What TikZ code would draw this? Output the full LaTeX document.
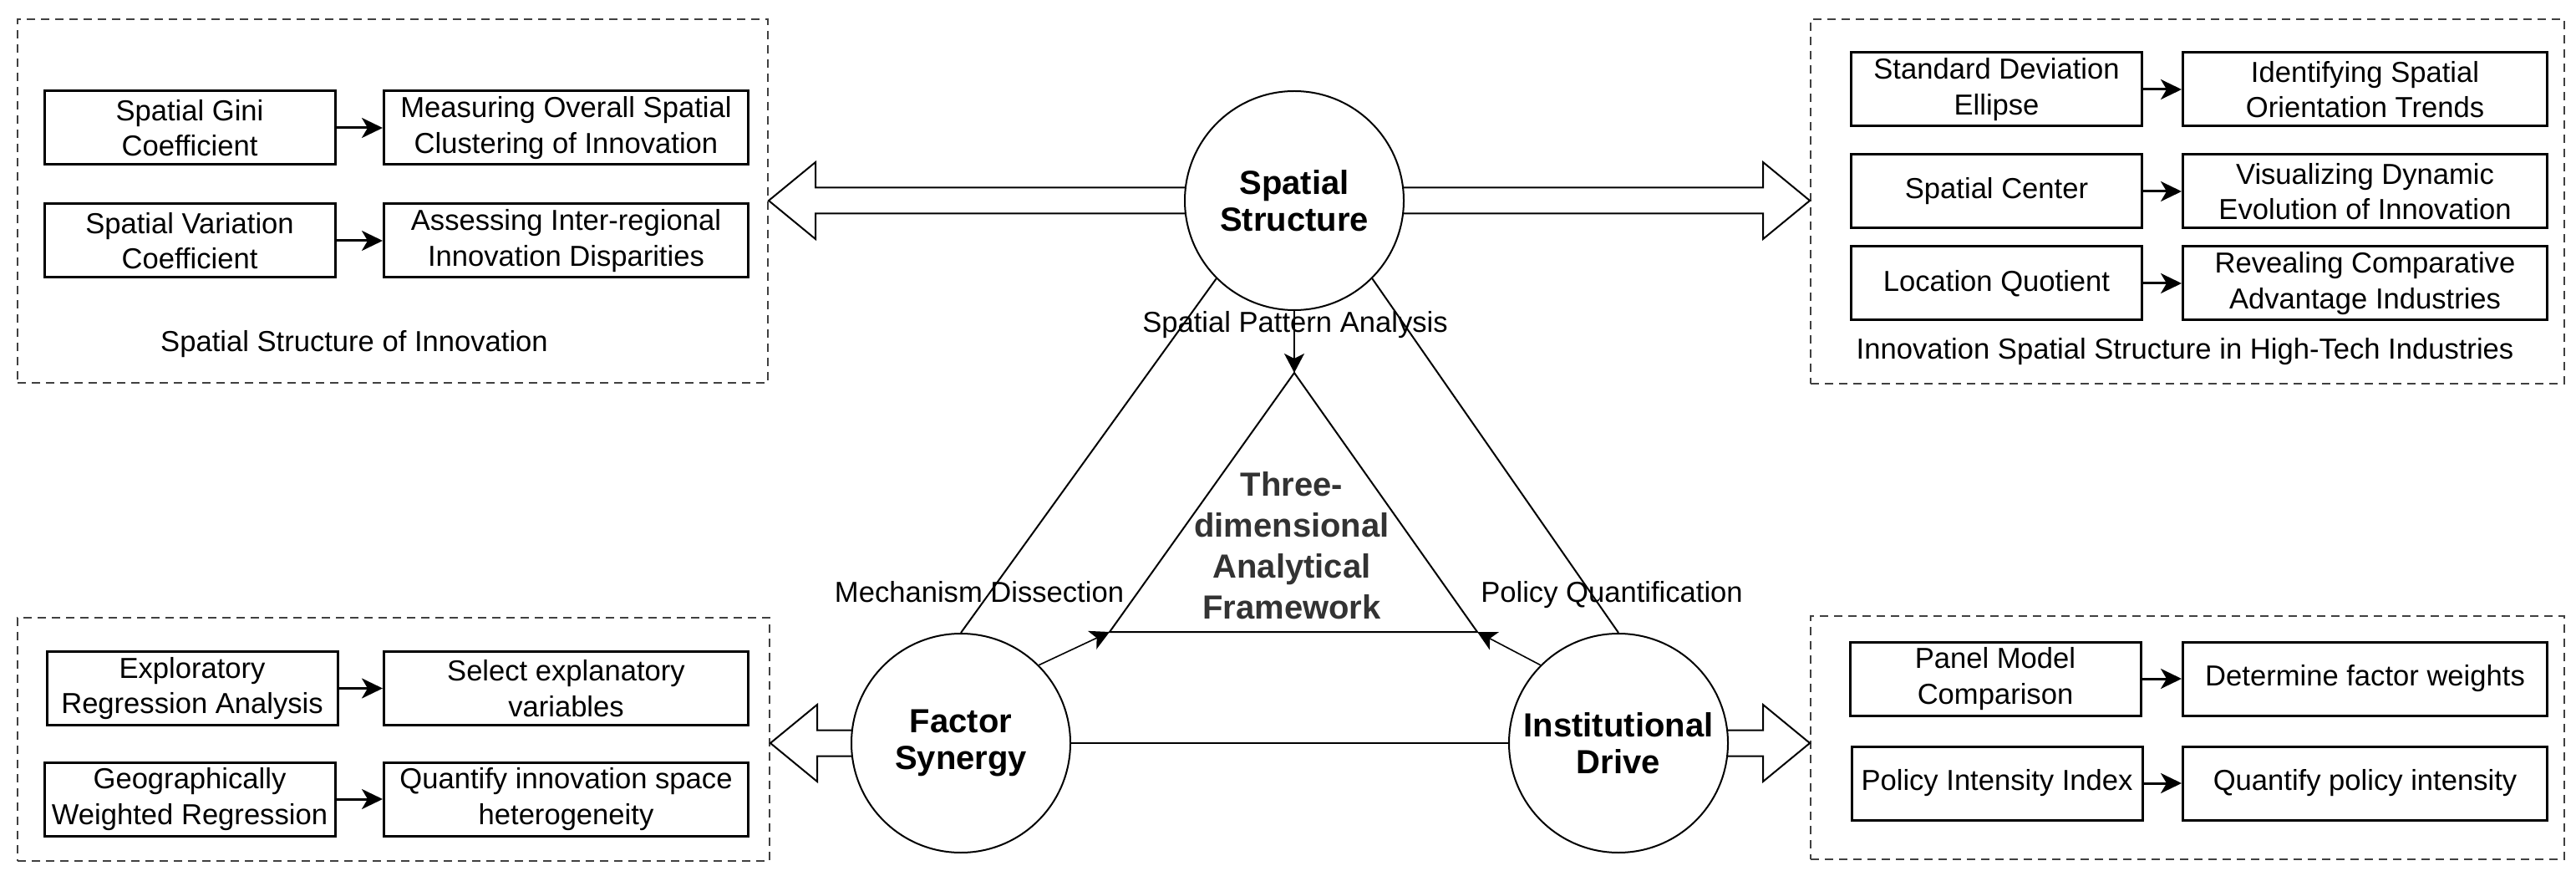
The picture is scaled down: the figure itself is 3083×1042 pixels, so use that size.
\documentclass[tikz,border=0pt]{standalone}
\usepackage{fontspec}
\setmainfont{Liberation Sans}
\usetikzlibrary{arrows.meta,calc}
\definecolor{innergray}{HTML}{333333}
\definecolor{dashgray}{HTML}{404040}
\begin{document}
\begin{tikzpicture}[x=0.5pt,y=-0.5pt,
  sbox/.style={draw=black, line width=1.5pt, minimum height=44pt, inner sep=0pt, align=center,
    font=\fontsize{17.3pt}{21.25pt}\selectfont},
  lw/.style={sbox, minimum width=174pt},
  rw/.style={sbox, minimum width=218pt},
  dbox/.style={draw=dashgray, line width=1pt, dash pattern=on 5pt off 3.5pt, inner sep=0pt},
  lab/.style={font=\fontsize{17.3pt}{21.25pt}\selectfont, inner sep=0pt},
  circ/.style={circle, draw, line width=1pt, minimum size=131pt, inner sep=0pt, fill=white, align=center,
    font=\bfseries\fontsize{20pt}{22pt}\selectfont},
  inner/.style={align=center, text=innergray, inner sep=0pt, font=\bfseries\fontsize{20pt}{24.5pt}\selectfont},
  sarrow/.style={-{Stealth[length=12.5pt,width=12pt,inset=3.5pt]}, line width=1.5pt},
  tarrow/.style={-{Stealth[length=11.5pt,width=12pt,inset=3pt]}, line width=0.8pt},
  hollow/.style={line width=1pt, line join=miter},
  thinline/.style={line width=1pt},
]
\useasboundingbox (0,0) rectangle (3083,1042);

% dashed group boxes
\node[dbox, minimum width=449pt, minimum height=217.5pt] (gTL) at (470,240.5) {};
\node[dbox, minimum width=451pt, minimum height=218pt] (gTR) at (2618,241) {};
\node[dbox, minimum width=450pt, minimum height=145.5pt] (gBL) at (471,884.5) {};
\node[dbox, minimum width=451pt, minimum height=145.5pt] (gBR) at (2618,882.5) {};

% top-left group
\node[lw] (gini) at (227,153) {Spatial Gini\\Coefficient};
\node[rw] (meas) at (677.5,153) {Measuring Overall Spatial\\Clustering of Innovation};
\node[lw] (var) at (227,288) {Spatial Variation\\Coefficient};
\node[rw] (assess) at (677.5,288) {Assessing Inter-regional\\Innovation Disparities};
\node[lab, anchor=base] (capTL) at (424,421) {Spatial Structure of Innovation};
\draw[sarrow] (gini) -- (meas);
\draw[sarrow] (var) -- (assess);

% top-right group
\node[lw] (sde) at (2389.5,107) {Standard Deviation\\Ellipse};
\node[rw] (ident) at (2830.5,107) {Identifying Spatial\\Orientation Trends};
\node[lw] (sc) at (2389.5,229) {Spatial Center};
\node[rw] (vis) at (2830.5,229) {Visualizing Dynamic\\Evolution of Innovation};
\node[lw] (lq) at (2389.5,339) {Location Quotient};
\node[rw] (rev) at (2830.5,339) {Revealing Comparative\\Advantage Industries};
\node[lab, anchor=base] (capTR) at (2615,430) {Innovation Spatial Structure in High-Tech Industries};
\draw[sarrow] (sde) -- (ident);
\draw[sarrow] (sc) -- (vis);
\draw[sarrow] (lq) -- (rev);

% bottom-left group
\node[lw] (expl) at (230,823.5) {Exploratory\\Regression Analysis};
\node[rw] (sel) at (677.5,823.5) {Select explanatory\\variables};
\node[lw] (gwr) at (227,956) {Geographically\\Weighted Regression};
\node[rw] (quant) at (677.5,956) {Quantify innovation space\\heterogeneity};
\draw[sarrow] (expl) -- (sel);
\draw[sarrow] (gwr) -- (quant);

% bottom-right group
\node[lw] (panel) at (2388,812) {Panel Model\\Comparison};
\node[rw] (det) at (2830.5,812) {Determine factor weights};
\node[lw] (pii) at (2390,937) {Policy Intensity Index};
\node[rw] (qpi) at (2830.5,937) {Quantify policy intensity};
\draw[sarrow] (panel) -- (det);
\draw[sarrow] (pii) -- (qpi);

% circles
\node[circ] (ss) at (1549,240) {Spatial\\Structure};
\node[circ] (fs) at (1150,889) {Factor\\Synergy};
\node[circ] (id) at (1937,889) {Institutional\\Drive};

% hollow arrows
\coordinate (tipTL) at (gTL.east |- ss.center);
\coordinate (tipTR) at (gTR.west |- ss.center);
\coordinate (tipBL) at (gBL.east |- fs.center);
\coordinate (tipBR) at (gBR.west |- id.center);
\draw[hollow] ($(ss.center)+(-130,-15.5)$) -- ($(tipTL)+(56,-15.5)$) -- ($(tipTL)+(56,-46)$) -- (tipTL)
  -- ($(tipTL)+(56,46)$) -- ($(tipTL)+(56,15.5)$) -- ($(ss.center)+(-130,15.5)$);
\draw[hollow] ($(ss.center)+(130,-15.5)$) -- ($(tipTR)+(-56,-15.5)$) -- ($(tipTR)+(-56,-46)$) -- (tipTR)
  -- ($(tipTR)+(-56,46)$) -- ($(tipTR)+(-56,15.5)$) -- ($(ss.center)+(130,15.5)$);
\draw[hollow] ($(fs.center)+(-130,-15.5)$) -- ($(tipBL)+(56,-15.5)$) -- ($(tipBL)+(56,-46)$) -- (tipBL)
  -- ($(tipBL)+(56,46)$) -- ($(tipBL)+(56,15.5)$) -- ($(fs.center)+(-130,15.5)$);
\draw[hollow] ($(id.center)+(130,-15.5)$) -- ($(tipBR)+(-56,-15.5)$) -- ($(tipBR)+(-56,-46)$) -- (tipBR)
  -- ($(tipBR)+(-56,46)$) -- ($(tipBR)+(-56,15.5)$) -- ($(id.center)+(130,15.5)$);

% inner triangle
\coordinate (apex) at (1549,446);
\coordinate (tbl) at (1328,756);
\coordinate (tbr) at (1768,756);
\draw[thinline, line join=miter] (apex) -- (tbl) -- (tbr) -- cycle;

% connectors
\draw[tarrow] (ss.south) -- (apex);
\draw[thinline] (ss.225) -- (fs.north);
\draw[thinline] (ss.-45) -- (id.north);
\draw[tarrow] (fs.45) -- (tbl);
\draw[tarrow] (id.135) -- (tbr);
\draw[thinline] (fs.east) -- (id.west);

% labels
\node[lab, anchor=base] (spa) at (1550,398) {Spatial Pattern Analysis};
\node[lab, anchor=base] (mech) at (1172,720) {Mechanism Dissection};
\node[lab, anchor=base] (pq) at (1929,720) {Policy Quantification};
\node[inner] (tdaf) at (1546,653) {Three-\\dimensional\\Analytical\\Framework};
\end{tikzpicture}
\end{document}
